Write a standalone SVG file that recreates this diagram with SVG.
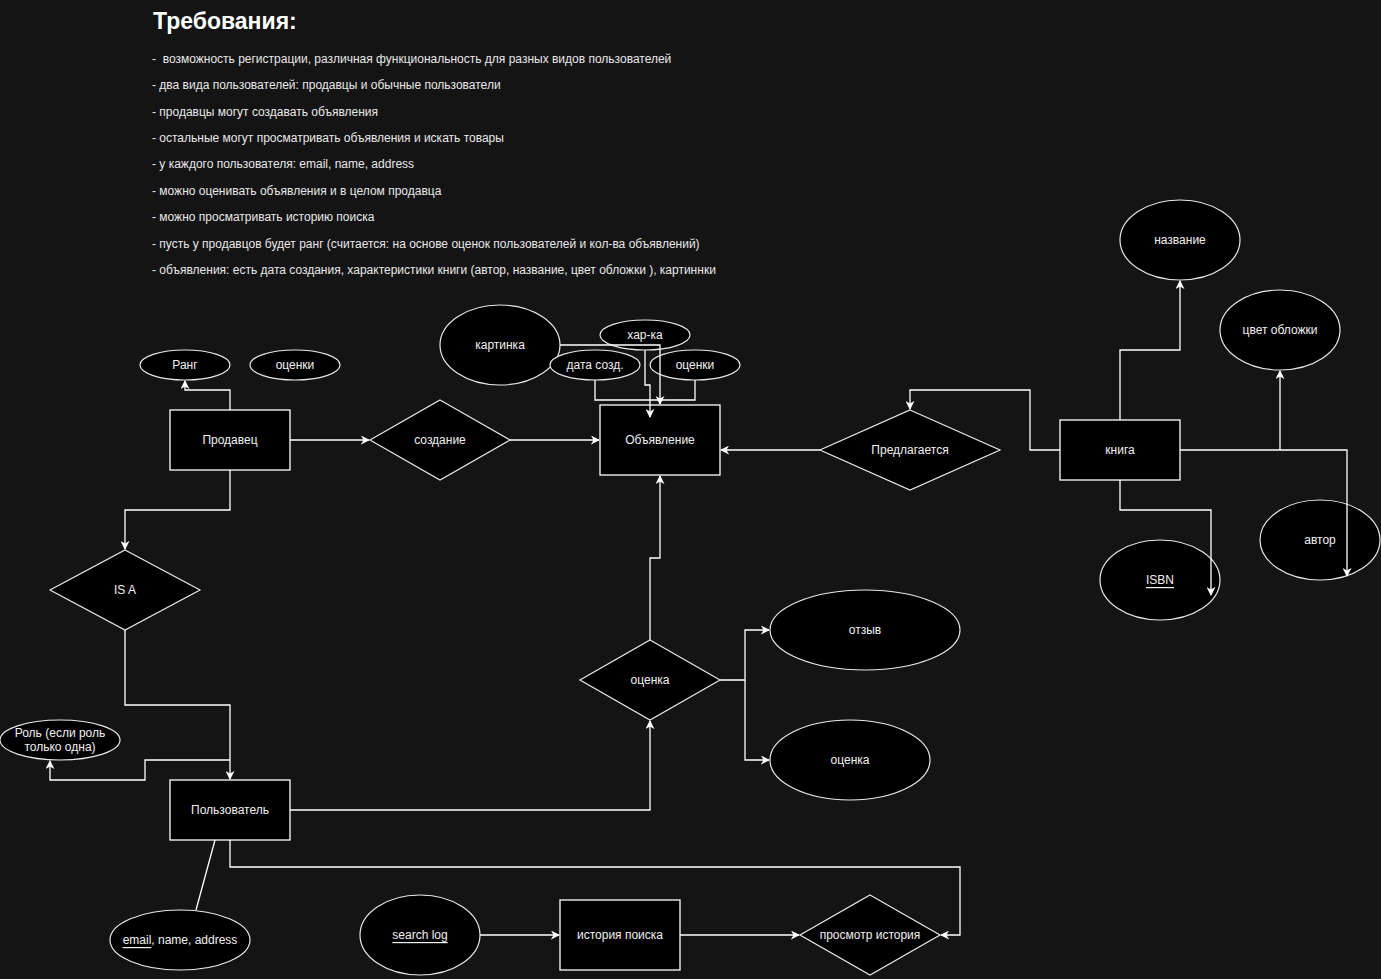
<svg xmlns="http://www.w3.org/2000/svg" width="1381" height="979" viewBox="0 0 1381 979">
  <defs>
    <marker id="arrow" viewBox="0 0 10 10" refX="9" refY="5" markerWidth="9" markerHeight="9" orient="auto" markerUnits="userSpaceOnUse">
      <path d="M0,0 L10,5 L0,10 L3,5 z" fill="#ffffff"/>
    </marker>
    <style>
      .bg { fill: #141414; }
      .ent { fill: #000000; stroke: #ffffff; stroke-width: 1.3; }
      .attr { fill: #000000; stroke: #e8e8e8; stroke-width: 1.2; }
      .rel { fill: #000000; stroke: #e8e8e8; stroke-width: 1.2; }
      .lbl { font-family: "Liberation Sans", Arial, Helvetica, sans-serif; font-size: 12px; fill: #f0f0f0; text-anchor: middle; dominant-baseline: central; }
      .req { font-family: "Liberation Sans", Arial, Helvetica, sans-serif; font-size: 12px; fill: #e8e8e8; }
      .title { font-family: "Liberation Sans", Arial, Helvetica, sans-serif; font-size: 23px; font-weight: bold; fill: #ffffff; }
      .edge { fill: none; stroke: #ffffff; stroke-width: 1.3; }
      .arr { marker-end: url(#arrow); }
      .u { text-decoration: underline; }
    </style>
  </defs>

  <rect class="bg" x="0" y="0" width="1381" height="979"/>

  <!-- Requirements list -->
  <g id="requirements">
    <text class="title" x="153" y="29">Требования:</text>
    <text class="req" x="152" y="63" xml:space="preserve">-  возможность регистрации, различная функциональность для разных видов пользователей</text>
    <text class="req" x="152" y="89">- два вида пользователей: продавцы и обычные пользователи</text>
    <text class="req" x="152" y="116">- продавцы могут создавать объявления</text>
    <text class="req" x="152" y="142">- остальные могут просматривать объявления и искать товары</text>
    <text class="req" x="152" y="168">- у каждого пользователя: email, name, address</text>
    <text class="req" x="152" y="195">- можно оценивать объявления и в целом продавца</text>
    <text class="req" x="152" y="221">- можно просматривать историю поиска</text>
    <text class="req" x="152" y="248">- пусть у продавцов будет ранг (считается: на основе оценок пользователей и кол-ва объявлений)</text>
    <text class="req" x="152" y="274">- объявления: есть дата создания, характеристики книги (автор, название, цвет обложки ), картиннки</text>
  </g>

  <!-- Seller -->
  <g id="rank">
    <ellipse class="attr" cx="185" cy="365" rx="45" ry="15"/>
    <text class="lbl" x="185" y="365">Ранг</text>
  </g>
  <g id="seller-ratings">
    <ellipse class="attr" cx="295" cy="365" rx="45" ry="15"/>
    <text class="lbl" x="295" y="365">оценки</text>
  </g>
  <g id="seller">
    <rect class="ent" x="170" y="410" width="120" height="60"/>
    <text class="lbl" x="230" y="440">Продавец</text>
  </g>
  <g id="create">
    <polygon class="rel" points="440,400 510,440 440,480 370,440"/>
    <text class="lbl" x="440" y="440">создание</text>
  </g>

  <!-- Listing -->
  <g id="picture">
    <ellipse class="attr" cx="500" cy="345" rx="60" ry="40"/>
    <text class="lbl" x="500" y="345">картинка</text>
  </g>
  <g id="specs">
    <ellipse class="attr" cx="645" cy="335" rx="45" ry="15"/>
    <text class="lbl" x="645" y="335">хар-ка</text>
  </g>
  <g id="created-date">
    <ellipse class="attr" cx="595" cy="365" rx="45" ry="15"/>
    <text class="lbl" x="595" y="365">дата созд.</text>
  </g>
  <g id="listing-ratings">
    <ellipse class="attr" cx="695" cy="365" rx="45" ry="15"/>
    <text class="lbl" x="695" y="365">оценки</text>
  </g>
  <g id="listing">
    <rect class="ent" x="600" y="405" width="120" height="70"/>
    <text class="lbl" x="660" y="440">Объявление</text>
  </g>
  <g id="offered">
    <polygon class="rel" points="910,410 1000,450 910,490 820,450"/>
    <text class="lbl" x="910" y="450">Предлагается</text>
  </g>

  <!-- Book -->
  <g id="book">
    <rect class="ent" x="1060" y="420" width="120" height="60"/>
    <text class="lbl" x="1120" y="450">книга</text>
  </g>
  <g id="book-title">
    <ellipse class="attr" cx="1180" cy="240" rx="60" ry="40"/>
    <text class="lbl" x="1180" y="240">название</text>
  </g>
  <g id="cover-color">
    <ellipse class="attr" cx="1280" cy="330" rx="60" ry="40"/>
    <text class="lbl" x="1280" y="330">цвет обложки</text>
  </g>
  <g id="author">
    <ellipse class="attr" cx="1320" cy="540" rx="60" ry="40"/>
    <text class="lbl" x="1320" y="540">автор</text>
  </g>
  <g id="isbn">
    <ellipse class="attr" cx="1160" cy="580" rx="60" ry="40"/>
    <text class="lbl u" x="1160" y="580">ISBN</text>
  </g>

  <!-- User hierarchy -->
  <g id="is-a">
    <polygon class="rel" points="125,550 200,590 125,630 50,590"/>
    <text class="lbl" x="125" y="590">IS A</text>
  </g>
  <g id="role">
    <ellipse class="attr" cx="60" cy="740" rx="60" ry="20"/>
    <text class="lbl" x="60" y="733">Роль (если роль</text>
    <text class="lbl" x="60" y="747">только одна)</text>
  </g>
  <g id="user">
    <rect class="ent" x="170" y="780" width="120" height="60"/>
    <text class="lbl" x="230" y="810">Пользователь</text>
  </g>
  <g id="user-info">
    <ellipse class="attr" cx="180" cy="940" rx="70" ry="30"/>
    <text class="lbl" x="180" y="940"><tspan class="u">email</tspan>, name, address</text>
  </g>

  <!-- Rating -->
  <g id="rating">
    <polygon class="rel" points="650,640 720,680 650,720 580,680"/>
    <text class="lbl" x="650" y="680">оценка</text>
  </g>
  <g id="review">
    <ellipse class="attr" cx="865" cy="630" rx="95" ry="40"/>
    <text class="lbl" x="865" y="630">отзыв</text>
  </g>
  <g id="score">
    <ellipse class="attr" cx="850" cy="760" rx="80" ry="40"/>
    <text class="lbl" x="850" y="760">оценка</text>
  </g>

  <!-- Search history -->
  <g id="search-log">
    <ellipse class="attr" cx="420" cy="935" rx="60" ry="40"/>
    <text class="lbl u" x="420" y="935">search log</text>
  </g>
  <g id="search-history">
    <rect class="ent" x="560" y="900" width="120" height="70"/>
    <text class="lbl" x="620" y="935">история поиска</text>
  </g>
  <g id="view-history">
    <polygon class="rel" points="870,895 940,935 870,975 800,935"/>
    <text class="lbl" x="870" y="935">просмотр история</text>
  </g>

  <!-- Connectors, drawn above the shapes -->
  <g id="connectors">
    <path class="edge arr" d="M230,410 V390 H185 V381"/>
    <path class="edge arr" d="M290,440 H369"/>
    <path class="edge arr" d="M510,440 H599"/>
    <path class="edge arr" d="M560,345 H660 V404"/>
    <path class="edge arr" d="M645,350 V385 H650 V417"/>
    <path class="edge" d="M595,380 V400 H695 V380"/>
    <path class="edge arr" d="M820,450 H721"/>
    <path class="edge arr" d="M1060,450 H1030 V390 H910 V409"/>
    <path class="edge arr" d="M1120,420 V350 H1180 V281"/>
    <path class="edge arr" d="M1180,450 H1280 V371"/>
    <path class="edge arr" d="M1280,450 H1347 V576"/>
    <path class="edge arr" d="M1120,480 V510 H1211 V595"/>
    <path class="edge arr" d="M230,470 V510 H125 V549"/>
    <path class="edge arr" d="M125,630 V705 H230 V779"/>
    <path class="edge arr" d="M230,760 H145 V780 H50 V761"/>
    <path class="edge arr" d="M290,810 H650 V721"/>
    <path class="edge arr" d="M650,640 V558 H660 V476"/>
    <path class="edge arr" d="M720,680 H745 V630 H769"/>
    <path class="edge arr" d="M745,680 V760 H769"/>
    <path class="edge" d="M215,840 L196,910"/>
    <path class="edge arr" d="M230,840 V867 H960 V935 H941"/>
    <path class="edge arr" d="M480,935 H559"/>
    <path class="edge arr" d="M680,935 H799"/>
  </g>
</svg>
